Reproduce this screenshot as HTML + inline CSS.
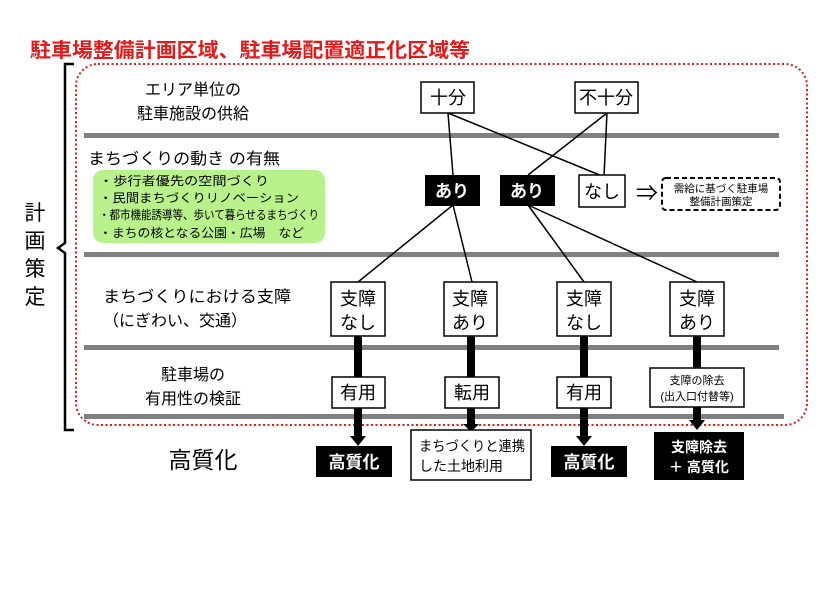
<!DOCTYPE html>
<html><head><meta charset="utf-8"><style>
html,body{margin:0;padding:0;background:#fff}
svg text{font-family:"Liberation Sans","Noto Sans CJK JP",sans-serif}
</style></head><body>
<svg width="823" height="590" viewBox="0 0 823 590" xmlns="http://www.w3.org/2000/svg">
<rect width="823" height="590" fill="#fff"/>
<text x="30" y="57" font-size="20" fill="#e21a1a" font-weight="bold" textLength="440" lengthAdjust="spacingAndGlyphs">駐車場整備計画区域、駐車場配置適正化区域等</text>
<!-- bracket -->
<path d="M74,64 H65 V243 L58,248 L65,253 V430 H74" fill="none" stroke="#000" stroke-width="2.5"/>
<text x="35" y="220" font-size="21" text-anchor="middle">計</text>
<text x="35" y="248" font-size="21" text-anchor="middle">画</text>
<text x="35" y="276" font-size="21" text-anchor="middle">策</text>
<text x="35" y="304" font-size="21" text-anchor="middle">定</text>
<rect x="76" y="64" width="731" height="361" rx="22" fill="none" stroke="#e21a1a" stroke-width="2" stroke-dasharray="2,2.5"/>
<g fill="#808080">
<rect x="84" y="133" width="695" height="5"/>
<rect x="84" y="252" width="695" height="5"/>
<rect x="84" y="345" width="695" height="5"/>
<rect x="84" y="414" width="700" height="5"/>
</g>
<g font-size="16">
<text x="193" y="95" text-anchor="middle">エリア単位の</text>
<text x="193" y="119" text-anchor="middle">駐車施設の供給</text>
<text x="88" y="164" textLength="192" lengthAdjust="spacingAndGlyphs">まちづくりの動き の有無</text>
<text x="103" y="302" textLength="188" lengthAdjust="spacingAndGlyphs">まちづくりにおける支障</text>
<text x="103" y="326">（にぎわい、交通）</text>
<text x="193" y="380" text-anchor="middle">駐車場の</text>
<text x="193" y="404" text-anchor="middle">有用性の検証</text>
</g>
<text x="203" y="468" font-size="23" text-anchor="middle">高質化</text>
<rect x="93" y="170" width="232" height="73" rx="10" fill="#b9f18b"/>
<g font-size="12">
<text x="99" y="185" textLength="170" lengthAdjust="spacingAndGlyphs">・歩行者優先の空間づくり</text>
<text x="99" y="202" textLength="200" lengthAdjust="spacingAndGlyphs">・民間まちづくりリノベーション</text>
<text x="99" y="219" textLength="220" lengthAdjust="spacingAndGlyphs">・都市機能誘導等、歩いて暮らせるまちづくり</text>
<text x="99" y="237" textLength="205" lengthAdjust="spacingAndGlyphs">・まちの核となる公園・広場　など</text>
</g>
<g stroke="#000" stroke-width="1.5" fill="none">
<line x1="448" y1="113" x2="453" y2="175"/>
<line x1="448" y1="113" x2="602" y2="176"/>
<line x1="607" y1="113" x2="528" y2="175"/>
<line x1="607" y1="113" x2="604" y2="176"/>
<line x1="453" y1="205" x2="358" y2="282"/>
<line x1="453" y1="205" x2="472" y2="282"/>
<line x1="528" y1="205" x2="584" y2="282"/>
<line x1="528" y1="205" x2="697" y2="282"/>
</g>
<g fill="#fff" stroke="#000" stroke-width="1.5">
<rect x="421" y="82" width="53" height="31"/>
<rect x="575" y="82" width="63" height="31"/>
<rect x="579" y="175" width="46" height="32"/>
</g>
<g font-size="18" text-anchor="middle">
<text x="448" y="104">十分</text>
<text x="606" y="104">不十分</text>
<text x="602" y="198">なし</text>
</g>
<rect x="425" y="175" width="55" height="31" fill="#000"/>
<rect x="500" y="175" width="55" height="31" fill="#000"/>
<text x="452" y="197" font-size="17" font-weight="bold" fill="#fff" text-anchor="middle">あり</text>
<text x="527" y="197" font-size="17" font-weight="bold" fill="#fff" text-anchor="middle">あり</text>
<text x="647" y="201" font-size="22" text-anchor="middle">⇒</text>
<rect x="662" y="178" width="118" height="32" rx="4" fill="#fff" stroke="#000" stroke-width="2" stroke-dasharray="5,3"/>
<text x="721" y="192" font-size="10.5" text-anchor="middle">需給に基づく駐車場</text>
<text x="721" y="205" font-size="10.5" text-anchor="middle">整備計画策定</text>
<g fill="#000">
<rect x="354" y="336" width="8" height="102"/><polygon points="350,436 366,436 358,446"/>
<rect x="467" y="336" width="8" height="90"/><polygon points="463,424 479,424 471,432"/>
<rect x="580" y="336" width="8" height="102"/><polygon points="576,436 592,436 584,446"/>
<rect x="693" y="336" width="8" height="86"/><polygon points="689,420 705,420 697,430"/>
</g>
<g fill="#fff" stroke="#000" stroke-width="1.5">
<rect x="331" y="282" width="54" height="54"/>
<rect x="444" y="282" width="53" height="54"/>
<rect x="557" y="282" width="54" height="54"/>
<rect x="670" y="282" width="54" height="54"/>
<rect x="332" y="377" width="53" height="31"/>
<rect x="445" y="377" width="54" height="31"/>
<rect x="557" y="377" width="54" height="31"/>
<rect x="650" y="368" width="94" height="39"/>
<rect x="411" y="430" width="120" height="50"/>
</g>
<g font-size="18" text-anchor="middle">
<text x="358" y="305">支障</text><text x="358" y="329">なし</text>
<text x="470" y="305">支障</text><text x="470" y="329">あり</text>
<text x="584" y="305">支障</text><text x="584" y="329">なし</text>
<text x="697" y="305">支障</text><text x="697" y="329">あり</text>
<text x="358" y="399">有用</text>
<text x="472" y="399">転用</text>
<text x="584" y="399">有用</text>
</g>
<text x="697" y="384" font-size="11" text-anchor="middle">支障の除去</text>
<text x="697" y="400" font-size="11" text-anchor="middle">(出入口付替等)</text>
<text x="419" y="451" font-size="14" textLength="106" lengthAdjust="spacingAndGlyphs">まちづくりと連携</text>
<text x="419" y="471" font-size="14">した土地利用</text>
<rect x="316" y="446" width="76" height="31" fill="#000"/>
<rect x="551" y="446" width="76" height="31" fill="#000"/>
<rect x="654" y="432" width="90" height="48" fill="#000"/>
<g fill="#fff" font-weight="bold" text-anchor="middle">
<text x="354" y="468" font-size="17">高質化</text>
<text x="589" y="468" font-size="17">高質化</text>
<text x="699" y="452" font-size="14">支障除去</text>
<text x="699" y="472" font-size="14">＋ 高質化</text>
</g>
</svg>
</body></html>
